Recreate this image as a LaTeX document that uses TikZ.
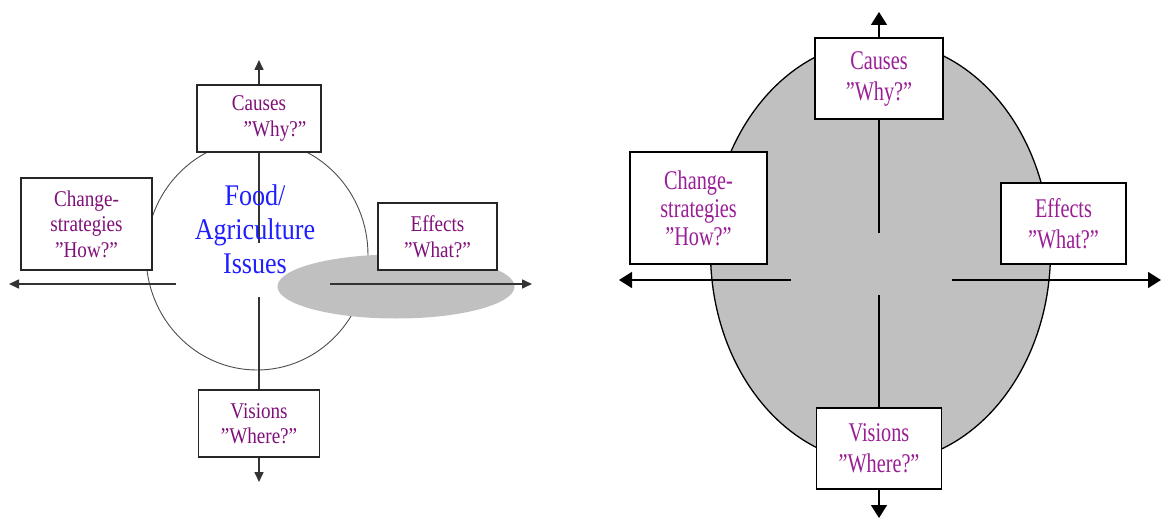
\documentclass[tikz,border=0pt]{standalone}
\usepackage{fontspec}
\setmainfont{Liberation Serif}
\usetikzlibrary{arrows.meta}
\tikzset{>={Triangle[width=9pt,length=10pt]}}
\definecolor{plum}{HTML}{80107A}
\definecolor{plumlight}{HTML}{9A1E96}
\definecolor{issueblue}{HTML}{1E1EFF}
\definecolor{fieldgray}{HTML}{C0C0C0}
\newfontfamily\smallboxfont[FakeStretch=0.85]{Liberation Serif}
\newfontfamily\bigboxfont[FakeStretch=0.75]{Liberation Serif}
\newfontfamily\issuefont[FakeStretch=0.87]{Liberation Serif}
\tikzset{
  qbox/.style={draw=black!85, line width=1.5pt, fill=white, inner sep=0pt,
    text=plum, align=center, font=\smallboxfont\fontsize{22.5}{25.5}\selectfont},
  Qbox/.style={draw=black, line width=1.5pt, fill=white, inner sep=0pt,
    text=plumlight, align=center, font=\bigboxfont\fontsize{27}{31}\selectfont},
  axis/.style={line width=1.6pt, draw=black!80},
  Axis/.style={line width=1.6pt, draw=black,
    >={Triangle[width=16pt,length=13pt]}},
}

\begin{document}
\begin{tikzpicture}[x=1pt,y=-1pt]
  \useasboundingbox (0,0) rectangle (1163,519);

  % left: the issue circle
  \draw[black!70, line width=0.9pt] (257,255) ellipse [x radius=111, y radius=115];
  \fill[fieldgray] (396,286.5) ellipse [x radius=118.5, y radius=32];

  \coordinate (nL) at (259,60);
  \coordinate (ncL) at (259,243);
  \coordinate (scL) at (259,297);
  \coordinate (sL) at (259,482);
  \coordinate (wL) at (9,284);
  \coordinate (wcL) at (176,284);
  \coordinate (ecL) at (330,284);
  \coordinate (eL) at (532,284);

  \node[qbox, minimum width=124pt, minimum height=67pt] (causesL) at (259,118.5)
  {Causes\\\hspace*{32pt}”Why?”};
  \node[qbox, minimum width=121pt, minimum height=67pt] (visionsL) at (259,423.5)
  {Visions\\”Where?”};

  \draw[axis,->] (causesL.north) -- (nL);
  \draw[axis] (causesL.south) -- (ncL);
  \draw[axis] (scL) -- (visionsL.north);
  \draw[axis,->] (visionsL.south) -- (sL);
  \draw[axis,->] (wcL) -- (wL);
  \draw[axis,->] (ecL) -- (eL);

  \node[text=issueblue, align=center, font=\issuefont\fontsize{30}{34}\selectfont]
  (issues) at (255,229) {Food/\\Agriculture\\Issues};

  \node[qbox, minimum width=131pt, minimum height=92pt] (changeL) at (86.5,224)
  {Change-\\strategies\\”How?”};
  \node[qbox, minimum width=119pt, minimum height=67pt] (effectsL) at (437.5,236.5)
  {Effects\\”What?”};

  % right: the shaded field
  \begin{scope}
  \fill[fieldgray, draw=black, line width=1.3pt] (880.5,252) ellipse [x radius=170, y radius=211];

  \coordinate (nR) at (879,12);
  \coordinate (ncR) at (879,233);
  \coordinate (scR) at (879,295);
  \coordinate (sR) at (879,518);
  \coordinate (wR) at (619,280);
  \coordinate (wcR) at (791,280);
  \coordinate (ecR) at (952,280);
  \coordinate (eR) at (1161,280);

  \node[Qbox, minimum width=128pt, minimum height=81pt] (causesR) at (879,78.5)
  {Causes\\”Why?”};
  \node[Qbox, minimum width=125pt, minimum height=81pt] (visionsR) at (879,448.5)
  {Visions\\”Where?”};
  \node[Qbox, minimum width=137pt, minimum height=112pt,
    font=\bigboxfont\fontsize{27}{28}\selectfont] (changeR) at (698.5,208)
  {Change-\\strategies\\”How?”};
  \node[Qbox, minimum width=125pt, minimum height=81pt] (effectsR) at (1063.5,223.5)
  {Effects\\”What?”};

  \draw[Axis,->] (causesR.north) -- (nR);
  \draw[Axis] (causesR.south) -- (ncR);
  \draw[Axis] (scR) -- (visionsR.north);
  \draw[Axis,->] (visionsR.south) -- (sR);
  \draw[Axis,->] (wcR) -- (wR);
  \draw[Axis,->] (ecR) -- (eR);
  \end{scope}
\end{tikzpicture}
\end{document}
